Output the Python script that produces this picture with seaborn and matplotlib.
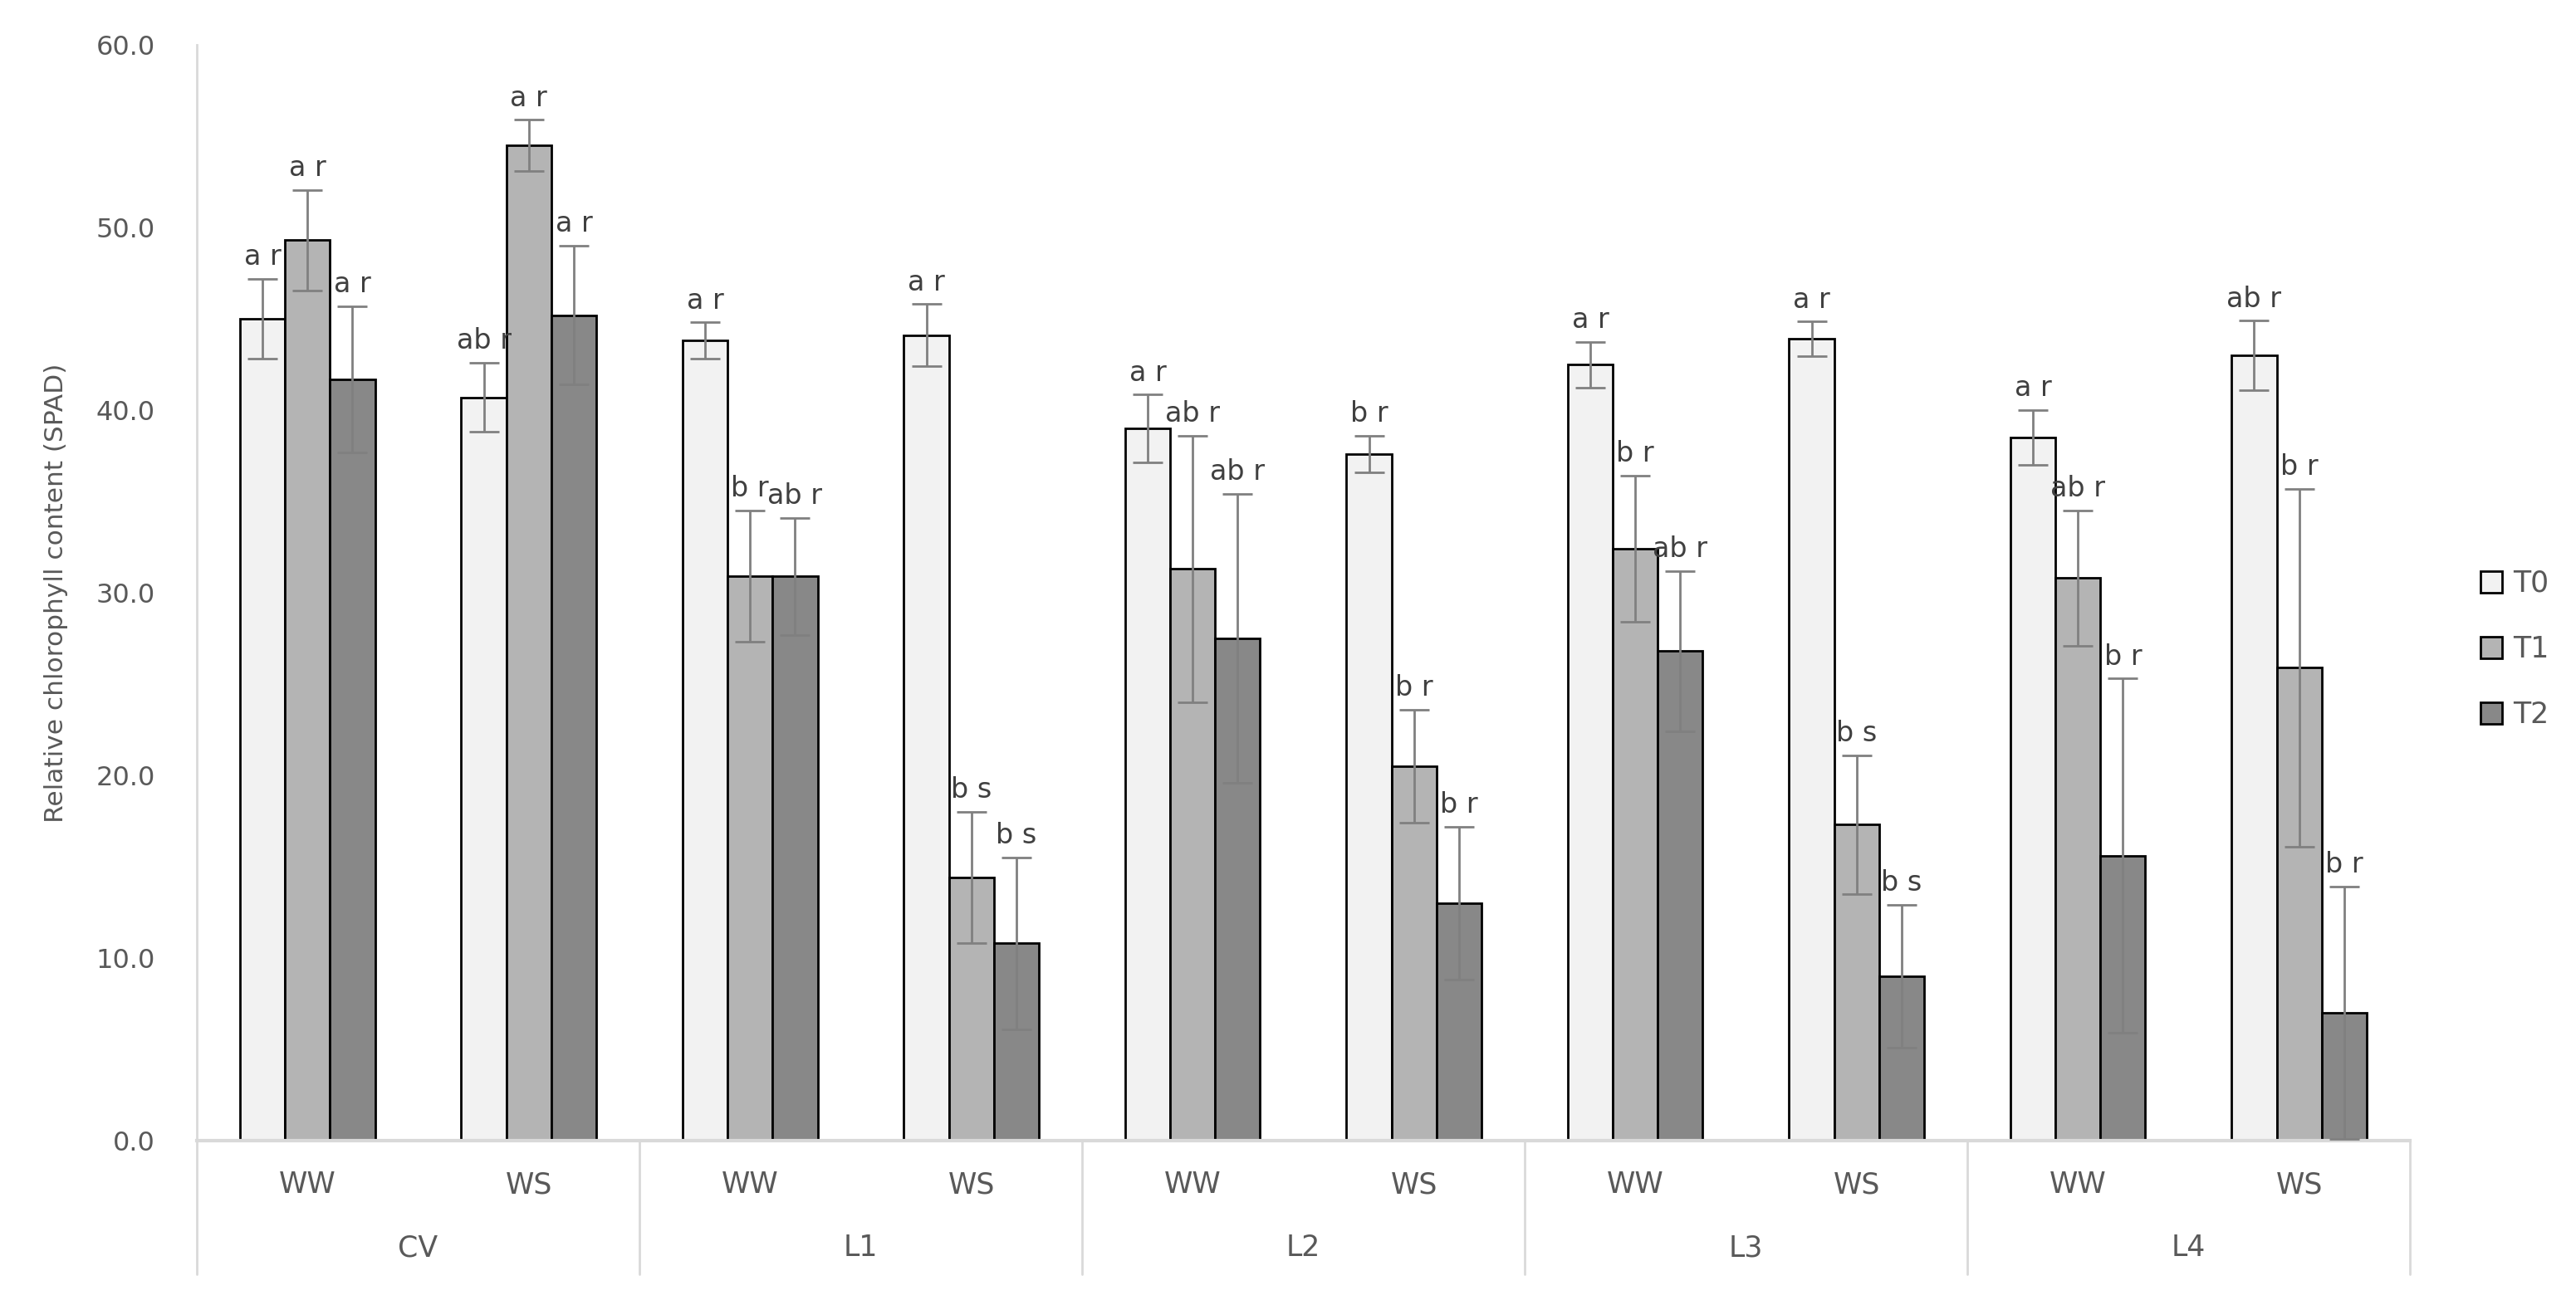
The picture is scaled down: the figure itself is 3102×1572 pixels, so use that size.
import numpy as np
import pandas as pd
import matplotlib
matplotlib.use('Agg')
import matplotlib.pyplot as plt
import matplotlib.patches as mpatches
import matplotlib.transforms as mtransforms
import seaborn as sns

# data
lines = ['CV', 'L1', 'L2', 'L3', 'L4']
water = ['WW', 'WS']
times = ['T0', 'T1', 'T2']

t0 = [45.0, 40.7, 43.8, 44.1, 39.0, 37.6, 42.5, 43.9, 38.5, 43.0]
t1 = [49.3, 54.5, 30.9, 14.4, 31.3, 20.5, 32.4, 17.3, 30.8, 25.9]
t2 = [41.7, 45.2, 30.9, 10.8, 27.5, 13.0, 26.8, 9.0, 15.6, 7.0]

e0 = [2.2, 1.9, 1.0, 1.7, 1.85, 1.0, 1.25, 0.95, 1.5, 1.9]
e1 = [2.75, 1.4, 3.6, 3.6, 7.3, 3.1, 4.0, 3.8, 3.7, 9.8]
e2 = [4.0, 3.8, 3.2, 4.7, 7.9, 4.2, 4.4, 3.9, 9.7, 6.9]

l0 = ['a r', 'ab r', 'a r', 'a r', 'a r', 'b r', 'a r', 'a r', 'a r', 'ab r']
l1 = ['a r', 'a r', 'b r', 'b s', 'ab r', 'b r', 'b r', 'b s', 'ab r', 'b r']
l2 = ['a r', 'a r', 'ab r', 'b s', 'ab r', 'b r', 'ab r', 'b s', 'b r', 'b r']

colors = ['#f2f2f2', '#b4b4b4', '#888888']
txt_col = '#595959'

conds = [f'{g} {w}' for g in lines for w in water]
df = pd.DataFrame({
    'cond': conds * 3,
    'time': np.repeat(times, len(conds)),
    'value': t0 + t1 + t2,
})
errs = [e0, e1, e2]
labs = [l0, l1, l2]

sns.set_theme(style='white')
plt.rcParams['font.family'] = ['DejaVu Sans']

fig = plt.figure(figsize=(31.02, 15.72), dpi=100)
ax = fig.add_axes([0.0764, 0.126, 0.8591, 0.8396])

sns.barplot(data=df, x='cond', y='value', hue='time', order=conds, hue_order=times,
            palette=colors, edgecolor='black', linewidth=2, width=0.61, gap=0,
            errorbar=None, legend=False, saturation=1, ax=ax)

# error bars and significance letters on top of each bar
for cont, err, lab in zip(ax.containers, errs, labs):
    xs = [p.get_x() + p.get_width() / 2 for p in cont.patches]
    hs = [p.get_height() for p in cont.patches]
    ax.errorbar(xs, hs, yerr=err, fmt='none', ecolor='#808080', elinewidth=2,
                capsize=13, capthick=2, zorder=5)
    for x, h, e, s in zip(xs, hs, err, lab):
        ax.annotate(s, (x, h + e), xytext=(0, 7), textcoords='offset points',
                    ha='center', va='bottom', fontsize=24, color='#404040')

ax.set_ylim(0, 60)
ax.set_xlim(-0.5, len(conds) - 0.5)
ax.set_yticks(np.arange(0, 61, 10))
ax.set_yticklabels([f'{v:.1f}' for v in np.arange(0, 61, 10)], fontsize=23, color=txt_col)
ax.tick_params(axis='y', length=0, pad=36)
ax.tick_params(axis='x', length=0, pad=26)
ax.set_xticks(range(len(conds)))
ax.set_xticklabels(water * len(lines), fontsize=25, color=txt_col)
ax.set_xlabel('')
ax.set_ylabel('Relative chlorophyll content (SPAD)', fontsize=22.5, color=txt_col, labelpad=24)

for sp in ['top', 'right']:
    ax.spines[sp].set_visible(False)
ax.spines['left'].set_color('#d9d9d9')
ax.spines['left'].set_linewidth(2)
ax.spines['bottom'].set_color('#d9d9d9')
ax.spines['bottom'].set_linewidth(3)

# second level of the category axis
trans = mtransforms.blended_transform_factory(ax.transData, ax.transAxes)
for i in range(len(lines) + 1):
    xb = 2 * i - 0.5
    ax.plot([xb, xb], [0, -0.122], transform=trans, color='#d9d9d9', lw=2, clip_on=False)
for i, g in enumerate(lines):
    ax.text(2 * i + 0.5, -0.098, g, transform=trans, ha='center', va='center',
            fontsize=25, color=txt_col)

handles = [mpatches.Patch(facecolor=c, edgecolor='black', linewidth=2) for c in colors]
fig.legend(handles, times, loc='center left', bbox_to_anchor=(0.953, 0.5025),
           frameon=False, fontsize=25, labelcolor=txt_col, handlelength=0.75,
           handleheight=0.75, handletextpad=0.35, labelspacing=1.3)

fig.savefig('out.png', dpi=100)
